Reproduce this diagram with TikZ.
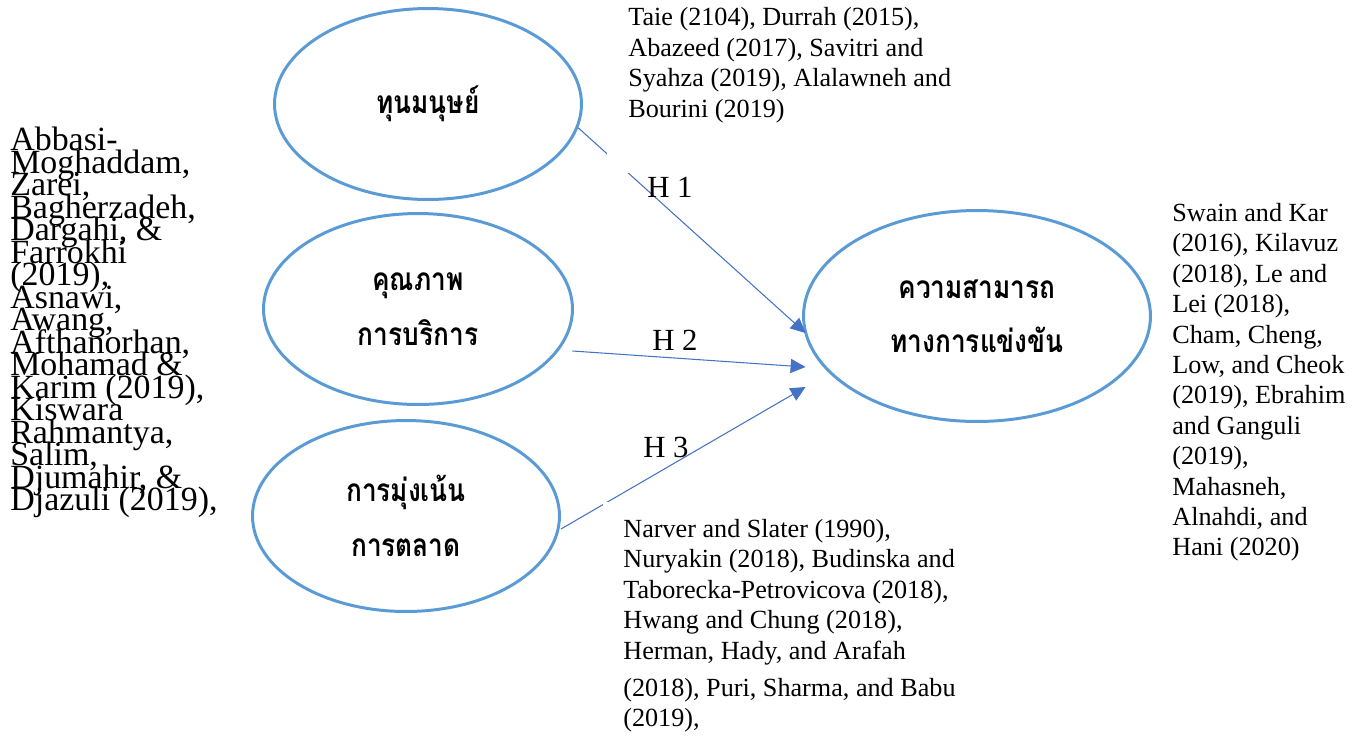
\documentclass[tikz,border=0pt]{standalone}
\usepackage{fontspec}
\setmainfont{Liberation Serif}
\newfontfamily\thaifont[Script=Thai, FakeStretch=0.83]{Loma}
\usetikzlibrary{shapes.geometric,arrows.meta}
\definecolor{ringblue}{HTML}{5B9BD5}
\definecolor{linkblue}{HTML}{4472C4}
\newcommand\tightlines{\lineskiplimit=-1000pt\relax\lineskip=0pt\relax}
\begin{document}
\begin{tikzpicture}[x=.02cm, y=-.02cm, >={Triangle[length=8.5pt,width=8pt]},
    var/.style={ellipse, draw=ringblue, line width=1.7pt, align=center, inner sep=0pt,
        font=\thaifont\bfseries\fontsize{18}{31}\selectfont},
    cite/.style={align=left, inner sep=0pt, font=\fontsize{14.9}{17.3}\selectfont},
    hyp/.style={anchor=base west, inner sep=0pt, font=\fontsize{17.5}{20}\selectfont},
    link/.style={->, draw=linkblue, line width=.6pt}]
\useasboundingbox (0,0) rectangle (1366,735);
\node[var, minimum width=6.14cm, minimum height=3.82cm] (hc) at (428,104) {ทุนมนุษย์};
\node[var, minimum width=6.18cm, minimum height=3.82cm] (sq) at (418,309) {คุณภาพ\\การบริการ};
\node[var, minimum width=6.14cm, minimum height=3.82cm] (mo) at (406,516) {การมุ่งเน้น\\การตลาด};
\node[var, minimum width=6.94cm, minimum height=4.22cm] (ca) at (977,316) {ความสามารถ\\ทางการแข่งขัน};

\draw[link] (hc.-9.5)--([xshift=.07cm, yshift=-.34cm]ca.west);
\draw[link] ([xshift=-.03cm, yshift=-.84cm]sq.east)--([xshift=.07cm, yshift=-1.02cm]ca.west);
\draw[link] ([yshift=-.26cm]mo.east)--([xshift=.07cm, yshift=-1.42cm]ca.west);

\node[cite, anchor=south west, fill=white, inner xsep=.42cm, inner ysep=1cm] (hcref) at (607,173)
    {Taie (2104), Durrah (2015),\\Abazeed (2017), Savitri and\\Syahza (2019), Alalawneh and\\Bourini (2019)};
\node[cite, anchor=north west, fill=white, inner xsep=.4cm, inner ysep=.34cm] (moref) at (603,502)
    {Narver and Slater (1990),\\Nuryakin (2018), Budinska and\\Taborecka-Petrovicova (2018),\\Hwang and Chung (2018),\\Herman, Hady, and Arafah\\[3.7pt](2018), Puri, Sharma, and Babu\\(2019),};
\node[cite, anchor=north west] (caref) at (1172,203)
    {Swain and Kar\\(2016), Kilavuz\\(2018), Le and\\Lei (2018),\\Cham, Cheng,\\Low, and Cheok\\(2019), Ebrahim\\and Ganguli\\(2019),\\Mahasneh,\\Alnahdi, and\\Hani (2020)};
\node[cite, anchor=north west, font=\fontsize{19.3}{12.8}\selectfont\tightlines] (sqref) at (10,127)
    {Abbasi-\\Moghaddam,\\Zarei,\\Bagherzadeh,\\Dargahi, \&\\Farrokhi\\(2019),\\Asnawi,\\Awang,\\Afthanorhan,\\Mohamad \&\\Karim (2019),\\Kiswara\\Rahmantya,\\Salim,\\Djumahir, \&\\Djazuli (2019),};

\node[hyp] (h1) at (647,197) {H 1};
\node[hyp] (h2) at (652,350) {H 2};
\node[hyp] (h3) at (643,457) {H 3};
\end{tikzpicture}
\end{document}
